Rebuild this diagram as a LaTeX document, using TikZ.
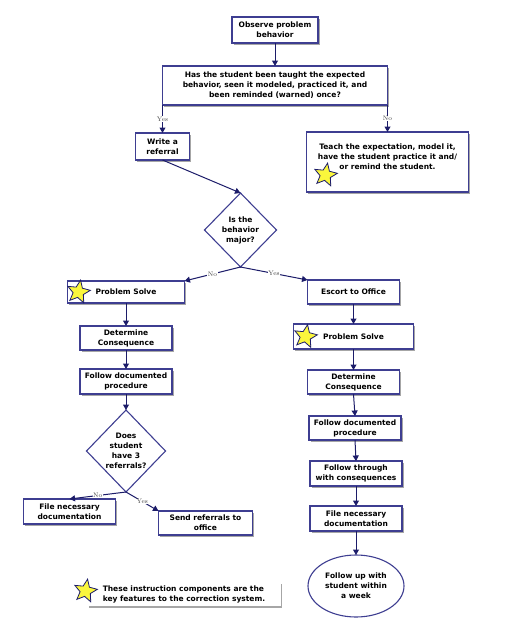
\documentclass[tikz,border=0pt]{standalone}
\usepackage{fontspec}
\newfontfamily\flowfont{DejaVu Sans}
\usepackage{tikz}
\usetikzlibrary{positioning,shapes.geometric,shadows,arrows.meta}
\definecolor{boxblue}{RGB}{62,62,145}
\definecolor{arrowblue}{RGB}{28,28,105}
\definecolor{staryellow}{RGB}{250,246,60}

\begin{document}
\begin{tikzpicture}[ squarednode/.style={rectangle, draw=boxblue, fill=white, line width=1.1pt, outer sep=0pt, align=center, inner sep=1pt, drop shadow={shadow xshift=1.8pt, shadow yshift=-1.8pt, fill=black!35, opacity=1}}, diamondnode/.style={diamond, draw=boxblue, fill=white, line width=1.1pt, outer sep=0pt, align=center, inner sep=-2pt, aspect=1}, roundnode/.style={ellipse, draw=boxblue, fill=white, line width=1.1pt, outer sep=0pt, align=center, inner sep=0pt}, starnode/.style={star, star points=5, star point ratio=2.2, draw=arrowblue, fill=staryellow, line width=0.8pt, minimum size=24pt, inner sep=0pt, rotate=-10}, yesno/.style={fill=white, inner sep=0.6pt, font=\fontsize{6.5}{7}\selectfont, text=black!75}, flow/.style={-{Triangle[length=5.5pt,width=6pt]}, draw=arrowblue, line width=1pt}]

\tikzstyle{every node}=[font=\flowfont\bfseries\fontsize{7.5}{10}\selectfont]

\useasboundingbox (0,0) rectangle (504pt,-640pt);

%Nodes
\node[squarednode, minimum width=86pt, minimum height=26pt]      (obs) at (275pt,-30pt) {Observe problem\\ behavior};
\node[squarednode, minimum width=225pt, minimum height=39pt]      (ques) [below=23pt of obs] {Has the student been taught the expected\\ behavior, seen it modeled, practiced it, and\\ been reminded (warned) once?};
\node[squarednode, minimum width=54pt, minimum height=27pt]      (ref) [below=28pt of ques.south west] {Write a\\ referral};
\node[squarednode, minimum width=162pt, minimum height=60pt]      (teach) [below=27pt of ques.south east] {Teach the expectation, model it,\\ have the student practice it and/\\ or remind the student.\\ \mbox{}};
\node[diamondnode, minimum width=72pt, minimum height=74pt]      (major) [below=33pt of ref, xshift=78pt] {Is the\\ behavior\\ major?};
\node[squarednode, minimum width=117pt, minimum height=22pt]      (solveL) [below=14pt of major.south, xshift=-114.5pt] {Problem Solve};
\node[squarednode, minimum width=92pt, minimum height=24pt]      (escort) [right=123pt of solveL] {Escort to Office};
\node[squarednode, minimum width=92pt, minimum height=24pt]      (consL) [below=23pt of solveL] {Determine\\ Consequence};
\node[squarednode, minimum width=92pt, minimum height=25pt]      (procL) [below=19pt of consL] {Follow documented\\ procedure};
\node[diamondnode, minimum width=79pt, minimum height=82pt]      (three) [below=16pt of procL] {Does\\ student\\ have 3\\ referrals?};
\node[squarednode, minimum width=92pt, minimum height=25pt]      (fileL) [below=7pt of three.south, xshift=-56.5pt] {File necessary\\ documentation};
\node[squarednode, minimum width=94pt, minimum height=24pt]      (send) [below=19pt of three.south, xshift=79.5pt] {Send referrals to\\ office};
\node[squarednode, minimum width=120pt, minimum height=25pt]      (solveR) [below=20pt of escort] {Problem Solve};
\node[squarednode, minimum width=92pt, minimum height=24pt]      (consR) [below=21pt of solveR] {Determine\\ Consequence};
\node[squarednode, minimum width=92pt, minimum height=24pt]      (procR) [below=22pt of consR, xshift=1.5pt] {Follow documented\\ procedure};
\node[squarednode, minimum width=92pt, minimum height=25pt]      (thru) [below=21pt of procR, xshift=1pt] {Follow through\\ with consequences};
\node[squarednode, minimum width=92pt, minimum height=25pt]      (fileR) [below=20pt of thru] {File necessary\\ documentation};
\node[roundnode, minimum width=96pt, minimum height=62pt]      (week) [below=24pt of fileR] {Follow up with\\ student within\\ a week};
\node[squarednode, draw=none, align=left, minimum width=193pt, minimum height=24pt]      (legend) [below=47pt of send, xshift=-21.5pt] {These instruction components are the\\ key features to the correction system.};

%Stars
\node[starnode] (starT) at ([xshift=19pt,yshift=17pt]teach.south west) {};
\node[starnode] (starL) at ([xshift=11pt]solveL.west) {};
\node[starnode] (starR) at ([xshift=12pt]solveR.west) {};
\node[starnode] (starK) at ([xshift=-2pt,yshift=3pt]legend.west) {};

%Lines
\draw[flow] (obs.south) -- (ques.north);
\draw[flow] (ques.south west) -- (ref.north) node[midway, yesno] {Yes};
\draw[flow] (ques.south east) -- (teach.north) node[midway, yesno] {No};
\draw[flow] (ref.south) -- (major.north);
\draw[flow] (major.south) -- (solveL.north east) node[midway, yesno] {No};
\draw[flow] (major.south) -- (escort.north west) node[midway, yesno] {Yes};
\draw[flow] (solveL.south) -- (consL.north);
\draw[flow] (consL.south) -- (procL.north);
\draw[flow] (procL.south) -- (three.north);
\draw[flow] (three.south) -- (fileL.north) node[midway, yesno] {No};
\draw[flow] (three.south) -- (send.north west) node[midway, yesno] {Yes};
\draw[flow] (escort.south) -- (solveR.north);
\draw[flow] (solveR.south) -- (consR.north);
\draw[flow] (consR.south) -- (procR.north);
\draw[flow] (procR.south) -- (thru.north);
\draw[flow] (thru.south) -- (fileR.north);
\draw[flow] (fileR.south) -- (week.north);

\end{tikzpicture}
\end{document}
